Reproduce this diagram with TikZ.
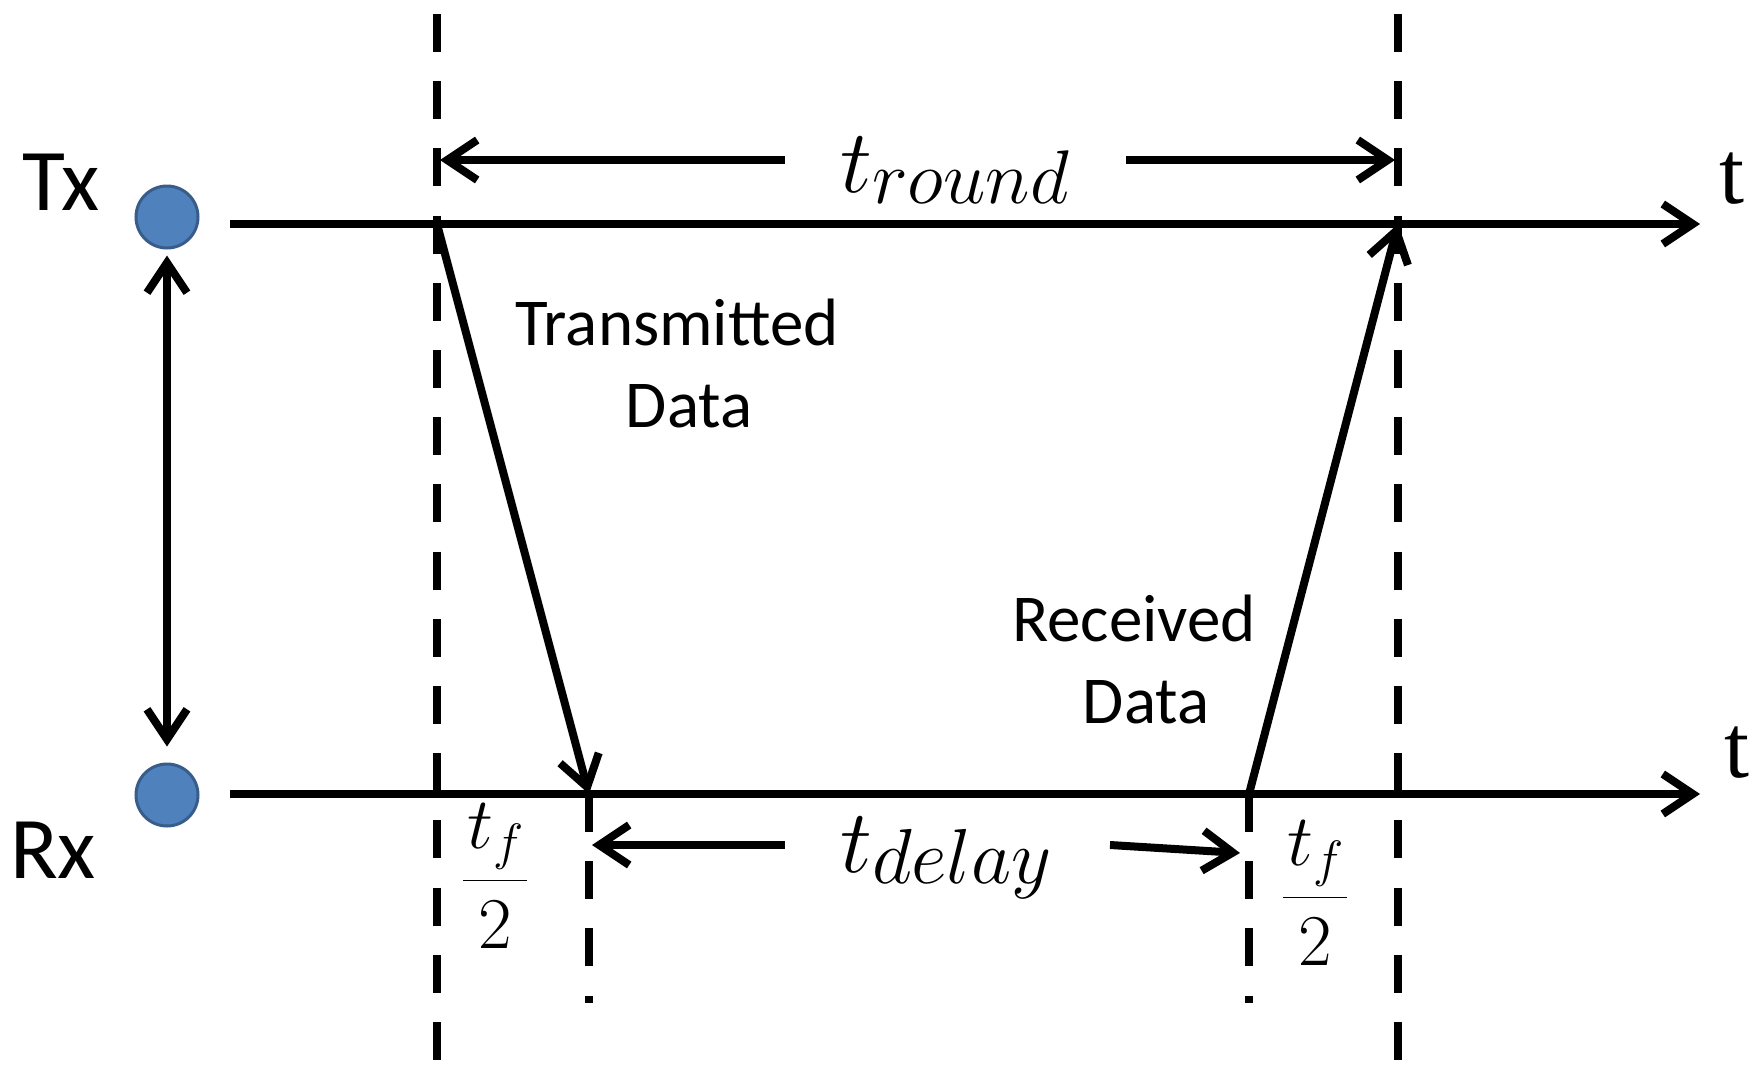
\RequirePackage{fix-cm}
\documentclass[tikz,border=0pt]{standalone}
\usepackage[no-math]{fontspec}
\setmainfont{Carlito}
\newfontfamily\serifT{Liberation Serif}
\usetikzlibrary{arrows.meta}
\definecolor{dotfill}{RGB}{79,129,189}
\definecolor{dotline}{RGB}{56,93,138}
\newcommand{\tsb}[2][76]{$t$\lower11pt\hbox{\fontsize{#1}{#1}\selectfont$#2$}}
\begin{document}
\begin{tikzpicture}[x=1pt,y=-1pt,
  ln/.style={line width=8pt},
  dsh/.style={line width=8pt, dash pattern=on 38pt off 29.2pt},
  >={Straight Barb[length=30pt,width=40pt]},
  lbl/.style={inner sep=0pt, font=\fontsize{67}{82}\selectfont},
  big/.style={inner sep=0pt, font=\fontsize{88}{100}\selectfont},
  mth/.style={inner sep=0pt, font=\fontsize{90}{100}\selectfont},
  frc/.style={inner sep=0pt, font=\fontsize{73}{80}\selectfont},
  tlab/.style={inner sep=0pt, font=\serifT\fontsize{90}{100}\selectfont},
  dot/.style={circle, minimum size=62pt, inner sep=0pt, fill=dotfill, draw=dotline, line width=3pt}]
\useasboundingbox (0,0) rectangle (1757,1074);
\fill[white] (0,0) rectangle (1757,1074);

% key coordinates
\coordinate (A) at (437,224);
\coordinate (B) at (1398,224);
\coordinate (C) at (589,794);
\coordinate (D) at (1249,794);
\coordinate (txs) at (230,224);
\coordinate (txe) at (1700,224);
\coordinate (rxs) at (230,794);
\coordinate (rxe) at (1700,794);
\coordinate (dAt) at (437,14);
\coordinate (dAb) at (437,1060);
\coordinate (dBt) at (1398,14);
\coordinate (dBb) at (1398,1060);
\coordinate (dCb) at (589,1003);
\coordinate (dDb) at (1249,1003);
\coordinate (rl1) at (785,160);
\coordinate (rl2) at (440,160);
\coordinate (rr1) at (1126,160);
\coordinate (rr2) at (1395,160);
\coordinate (dl1) at (785,845);
\coordinate (dl2) at (592,845);
\coordinate (dr1) at (1110,845);
\coordinate (dr2) at (1240,853);

% dashed guides
\draw[dsh] (dAt) -- (dAb);
\draw[dsh] (dBt) -- (dBb);
\draw[dsh] (C) -- (dCb);
\draw[dsh] (D) -- (dDb);

% time axes
\draw[ln,->] (txs) -- (txe);
\draw[ln,->] (rxs) -- (rxe);

% nodes
\node[dot] (txc) at (167,217) {};
\node[dot] (rxc) at (167,795) {};
\draw[ln,<->,shorten <=6pt,shorten >=16pt] (txc) -- (rxc);

% data arrows
\draw[ln,->] (A) -- (C);
\draw[ln,->] (D) -- (B);

% t_round arrows
\draw[ln,->] (rl1) -- (rl2);
\draw[ln,->] (rr1) -- (rr2);
% t_delay arrows
\draw[ln,->] (dl1) -- (dl2);
\draw[ln,->] (dr1) -- (dr2);

% labels
\node[big, anchor=base west] (tx) at (22,210) {Tx};
\node[big, anchor=base west] (rx) at (10,878) {Rx};
\node[tlab, anchor=base] (t1) at (1732,203) {t};
\node[tlab, anchor=base] (t2) at (1737,777) {t};
\node[mth, anchor=base west] (tround) at (840,192) {\tsb{round}};
\node[mth, anchor=base west] (tdelay) at (840,872) {\tsb[78]{delay}};
\node[frc, anchor=base] (fl) at (495,898) {$\displaystyle\frac{\kern5pt t_f\kern3pt}{2}$};
\node[frc, anchor=base] (fr) at (1315,915) {$\displaystyle\frac{\kern5pt t_f\kern3pt}{2}$};
\node[lbl, align=center, anchor=base] (trans) at (677,427) {Transmitted\\\hspace*{24pt}Data};
\node[lbl, align=center, anchor=base] (recv) at (1134,723) {Received\\\hspace*{24pt}Data};
\end{tikzpicture}
\end{document}
